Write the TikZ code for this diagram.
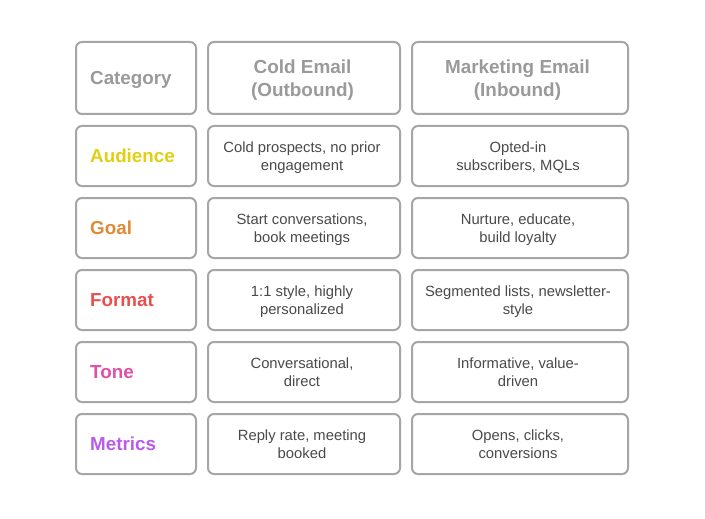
\documentclass[tikz,border=0pt]{standalone}
\usepackage{fontspec}
\setmainfont{Liberation Sans}
\definecolor{edge}{HTML}{A6A6A6}
\definecolor{headc}{HTML}{9A9A9A}
\definecolor{body}{HTML}{4A4A4A}
\definecolor{cA}{HTML}{E2CF12}
\definecolor{cG}{HTML}{E08A35}
\definecolor{cF}{HTML}{E8504F}
\definecolor{cT}{HTML}{E24FA8}
\definecolor{cM}{HTML}{B95CEB}
\tikzset{x=1pt,y=-1pt,
 cell/.style={draw=edge,line width=2pt,rounded corners=6pt,fill=white,inner sep=0pt,anchor=center},
 c1/.style={cell,minimum width=120pt},
 c2/.style={cell,minimum width=192pt},
 c3/.style={cell,minimum width=216pt},
 rh/.style={minimum height=72pt},
 rn/.style={minimum height=60pt},
 head/.style={inner sep=0pt,anchor=base,align=center,text=headc,font=\fontsize{18.9}{24}\selectfont\bfseries},
 txt/.style={inner sep=0pt,anchor=base,align=center,text=body,font=\fontsize{14.8}{18}\selectfont},
 lab/.style={inner sep=0pt,anchor=base west,font=\fontsize{18.8}{24}\selectfont\bfseries}}
\begin{document}
\begin{tikzpicture}
\useasboundingbox (0,0) rectangle (705,519);
\fill[white] (0,0) rectangle (705,519);
\foreach \nm/\yy/\cc/\tt in {a/156/cA/Audience,g/228/cG/Goal,f/300/cF/Format,t/372/cT/Tone,m/444/cM/Metrics}{
  \node[c1,rn] (l\nm) at (136,\yy) {};
  \node[lab,text=\cc] (lt\nm) at (90,\yy+6.5) {\tt};
  \node[c2,rn] (b2\nm) at (304,\yy) {};
  \node[c3,rn] (b3\nm) at (520,\yy) {};
}
\node[c1,rh] (lc) at (136,78) {};
\node[lab,text=headc] (ltc) at (90,84.5) {Category};
\node[c2,rh] (h2) at (304,78) {};
\node[c3,rh] (h3) at (520,78) {};
\node[head] (h2t) at (302.5,97) {Cold Email\\(Outbound)};
\node[head] (h3t) at (517.5,97) {Marketing Email\\(Inbound)};
\node[txt] (a2) at (302,170.5) {Cold prospects, no prior\\engagement};
\node[txt] (a3) at (518,170.5) {Opted-in\\subscribers, MQLs};
\node[txt] (g2) at (302,242.5) {Start conversations,\\book meetings};
\node[txt] (g3) at (518,242.5) {Nurture, educate,\\build loyalty};
\node[txt] (f2) at (302,314.5) {1:1 style, highly\\personalized};
\node[txt] (f3) at (518,314.5) {Segmented lists, newsletter-\\style};
\node[txt] (t2) at (302,386.5) {Conversational,\\direct};
\node[txt] (t3) at (518,386.5) {Informative, value-\\driven};
\node[txt] (m2) at (302,458.5) {Reply rate, meeting\\booked};
\node[txt] (m3) at (518,458.5) {Opens, clicks,\\conversions};
\end{tikzpicture}
\end{document}
